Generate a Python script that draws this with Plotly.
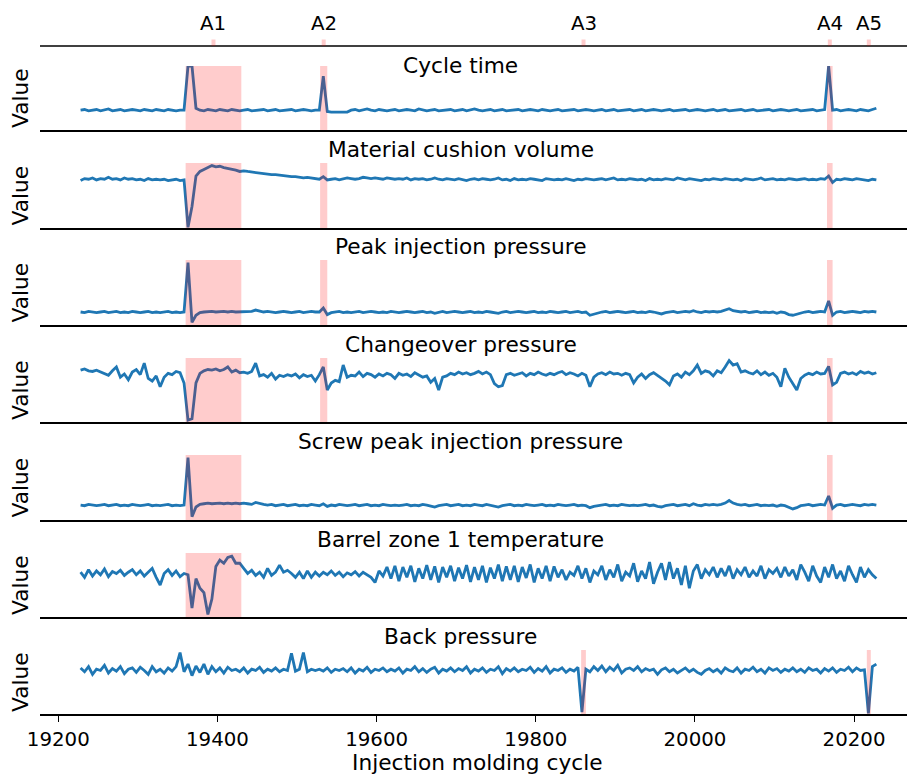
import plotly.graph_objects as go

# ---------------- data ----------------
cycles = list(range(19228, 20229, 5))  # injection molding cycle numbers (201 samples)

panel_titles = ["Cycle time", "Material cushion volume", "Peak injection pressure",
                "Changeover pressure", "Screw peak injection pressure",
                "Barrel zone 1 temperature", "Back pressure"]

cycle_time = [
    31,32,30,31,32,30,31,33,30,31,32,30,31,32,31,30,32,31,30,32,
    31,30,32,31,30,31,31,100,100,34,31,30,32,31,30,32,31,30,32,31,
    30,31,32,30,31,31,32,30,31,32,30,31,31,32,30,31,32,31,30,31,
    31,84,29,28,28,28,28,28,31,32,30,31,33,31,30,32,31,30,31,32,
    30,31,32,31,30,33,31,30,31,32,30,31,31,32,30,31,32,30,31,33,
    31,30,31,32,30,31,32,30,31,31,32,30,31,32,31,30,32,31,30,31,
    32,30,31,31,32,30,31,32,31,30,31,32,30,31,32,30,31,31,32,30,
    31,32,30,31,32,31,30,31,32,30,31,31,32,30,31,32,31,30,31,32,
    30,31,32,30,31,31,32,30,31,32,30,31,31,32,30,31,32,31,30,31,
    32,30,31,31,32,30,31,32,100,31,32,30,31,32,31,30,32,31,30,32,34]

cushion_volume = [
    73,76,75,77,74,76,75,78,75,76,74,77,75,76,74,75,73,76,74,75,
    74,75,73,74,75,73,74,1,33,80,87,90,93,96,94,95,93,92,90,89,
    87,88,87,86,86,85,84,83,82,82,81,80,80,79,79,78,77,78,77,76,
    75,79,74,75,76,74,75,77,76,75,76,78,77,76,77,76,75,77,76,75,
    76,75,77,74,76,75,76,74,75,77,75,74,76,75,74,76,75,73,75,76,
    74,76,75,74,75,77,74,75,73,76,74,75,74,76,75,74,73,76,75,74,
    75,74,76,75,73,75,74,76,75,74,75,76,74,75,77,74,75,74,76,75,
    74,75,73,76,74,75,74,76,75,74,77,75,74,76,75,74,73,75,74,76,
    75,74,76,75,74,75,73,76,75,74,75,77,74,75,76,74,75,74,76,75,
    74,75,76,74,75,74,76,75,80,70,75,74,76,75,74,76,75,74,73,75,74]

peak_injection = [
    20,19,21,20,19,20,21,19,20,21,19,20,19,21,20,19,20,21,19,20,
    19,20,21,19,20,19,20,96,4,15,19,20,21,21,20,21,21,20,21,20,
    20,21,20,21,23,22,20,21,20,19,20,21,20,19,20,21,19,20,21,20,
    20,26,16,19,20,21,19,20,19,20,21,19,20,21,20,19,20,19,21,20,
    19,20,21,20,19,20,21,19,20,18,20,21,19,20,21,20,19,20,21,19,
    20,19,21,20,19,18,20,21,19,20,21,20,19,20,21,19,20,19,21,20,
    19,20,21,19,20,21,19,20,15,17,19,20,21,19,20,21,20,19,20,21,
    19,20,19,21,20,18,17,19,20,21,19,20,21,20,22,20,19,21,20,21,
    20,21,23,25,22,21,20,21,19,20,21,19,20,19,20,18,20,19,16,15,
    17,19,20,21,19,20,21,20,37,15,20,21,19,20,21,20,19,21,20,21,20]

changeover = [
    81,83,80,79,81,78,76,73,80,86,70,75,66,78,82,74,92,68,64,72,
    55,70,76,74,79,77,61,3,5,61,76,80,82,81,83,80,82,86,78,81,
    77,78,76,79,92,72,74,70,76,67,73,71,74,72,75,69,74,71,73,64,
    74,86,50,61,65,63,89,70,73,72,78,71,76,74,70,75,72,76,74,68,
    76,73,75,71,77,74,70,72,62,68,50,70,72,76,74,78,75,77,74,76,
    79,75,78,74,60,55,57,74,76,73,75,77,72,76,74,78,75,73,76,74,
    77,79,74,77,75,72,76,73,55,70,75,77,74,78,75,76,73,76,74,61,
    70,75,68,74,77,73,69,64,58,72,75,70,78,74,80,89,76,80,78,72,
    80,77,86,96,89,91,78,80,77,75,80,74,78,73,76,70,55,84,70,60,
    50,68,73,76,74,78,75,76,87,58,62,76,78,75,77,74,79,76,78,75,77]

screw_peak = [
    23,22,24,23,22,23,24,22,23,24,22,23,22,24,23,22,23,24,22,23,
    22,23,24,22,23,22,23,96,5,20,24,25,26,25,26,26,25,26,25,26,
    25,26,25,24,27,25,24,23,24,22,23,24,22,23,24,22,23,22,24,23,
    22,25,21,23,22,24,23,22,23,24,22,23,24,22,23,22,24,23,22,23,
    22,23,24,22,23,22,24,23,22,20,22,23,24,22,23,24,22,23,22,24,
    23,22,24,23,22,20,22,23,24,22,23,22,24,23,22,23,24,22,23,22,
    24,23,22,23,24,22,23,22,19,21,22,23,24,22,23,22,24,23,22,23,
    22,23,24,22,23,21,20,22,23,24,22,23,24,22,25,23,22,24,23,24,
    23,24,26,30,26,24,23,24,22,23,24,22,23,22,23,21,23,22,19,17,
    19,22,23,24,22,23,24,23,37,18,23,24,22,23,24,23,22,24,23,24,23]

barrel_temp = [
    70,62,74,64,72,66,75,63,71,68,73,65,70,74,66,72,64,70,76,62,
    50,68,74,65,72,63,68,66,14,60,45,38,4,28,79,89,84,93,95,84,
    84,76,68,73,65,70,62,76,65,70,81,70,73,68,62,70,60,72,62,70,
    64,70,66,72,65,70,63,69,66,71,64,70,66,62,54,72,64,78,60,80,
    56,78,62,80,55,76,60,81,58,79,54,78,62,80,56,77,60,81,55,78,
    58,80,54,77,60,82,56,79,58,80,55,78,61,82,54,76,60,80,56,79,
    62,74,58,70,65,80,60,76,54,72,66,80,58,74,62,82,56,70,64,84,
    55,72,60,86,52,70,84,58,86,60,76,50,80,45,72,82,60,74,66,78,
    62,76,64,80,60,74,66,78,62,72,64,80,60,74,68,76,62,78,64,74,
    58,82,70,56,80,64,54,78,62,82,60,72,56,80,66,54,78,62,74,66,60]

back_pressure = [
    72,66,74,62,70,68,76,64,71,67,74,63,70,72,65,73,68,62,74,66,
    70,64,72,67,74,96,66,78,60,75,65,78,62,74,66,72,64,73,68,70,
    66,72,64,70,68,73,65,70,67,72,66,70,68,95,67,70,96,66,70,68,
    70,67,72,65,70,68,71,66,72,64,70,67,73,65,70,68,72,66,70,67,
    72,64,70,68,74,66,71,65,70,73,64,70,67,72,66,71,68,74,64,70,
    67,72,65,70,68,74,63,71,67,72,66,70,68,73,65,71,67,74,64,70,
    68,72,65,70,67,73,3,70,66,74,68,75,66,73,68,76,64,70,72,68,
    74,66,71,68,70,62,69,72,66,70,64,68,72,66,70,65,62,68,71,66,
    70,64,72,68,66,72,64,70,68,73,66,70,64,72,68,71,65,70,67,72,
    66,70,65,72,68,70,64,71,67,72,65,70,68,73,66,72,68,69,1,74,78]

anomaly_labels = ["A1", "A2", "A3", "A4", "A5"]
anomaly_start = [19360, 19529, 19857, 20166, 20216]
anomaly_end = [19430, 19538, 19863, 20173, 20221]
# which panels (0-based) each anomaly is highlighted in
anomaly_panels = [[0, 1, 2, 3, 4, 5], [0, 1, 2, 3], [6], [0, 1, 2, 3, 4], [6]]

x_tick_values = [19200, 19400, 19600, 19800, 20000, 20200]

series = [cycle_time, cushion_volume, peak_injection, changeover,
          screw_peak, barrel_temp, back_pressure]
for s in series:
    assert len(s) == len(cycles), len(s)

# ---------------- layout geometry ----------------
W, H = 908, 776
tops = [66, 163, 260, 358, 455, 553, 650]
bottoms = [130, 228, 325, 422, 520, 617, 714]
title_y = [65, 149, 246, 344, 441, 539, 636]
FONT = "DejaVu Sans"
FS_BIG = 21.7
FS_TICK = 19.8
BLUE = "#1f77b4"
SHADE = "rgba(255,0,0,0.2)"
XRANGE = [19177.0, 20266.5]

def px(x):
    return x / W

def py(y):
    return 1 - y / H

fig = go.Figure()
layout = dict(
    width=W, height=H,
    margin=dict(l=0, r=0, t=0, b=0, pad=0, autoexpand=False),
    paper_bgcolor="white", plot_bgcolor="white",
    font=dict(family=FONT, size=FS_TICK, color="black"),
    showlegend=False,
)

shapes = []
annotations = []
n_panels = len(series)
for k, vals in enumerate(series):
    n = k + 1
    xa = "x" if n == 1 else f"x{n}"
    ya = "y" if n == 1 else f"y{n}"
    fig.add_trace(go.Scatter(x=cycles, y=vals, mode="lines",
                             line=dict(color=BLUE, width=2.8),
                             xaxis=xa, yaxis=ya, hoverinfo="skip"))
    is_bottom = (k == n_panels - 1)
    xaxis = dict(domain=[px(40), px(907)], range=XRANGE, anchor=ya,
                 showline=True, linecolor="black", linewidth=1.5,
                 showgrid=False, zeroline=False, automargin=False,
                 showticklabels=is_bottom,
                 ticks="outside" if is_bottom else "",
                 tickvals=x_tick_values if is_bottom else None,
                 tickformat="d",
                 ticklen=6, tickwidth=1.3, tickcolor="black",
                 tickfont=dict(family=FONT, size=FS_TICK, color="black"))
    if n > 1:
        xaxis["matches"] = "x"
    yaxis = dict(domain=[py(bottoms[k]), py(tops[k])], range=[0, 100], anchor=xa,
                 showline=False, showgrid=False, zeroline=False, automargin=False,
                 showticklabels=False, ticks="")
    layout["xaxis" if n == 1 else f"xaxis{n}"] = xaxis
    layout["yaxis" if n == 1 else f"yaxis{n}"] = yaxis

    # panel title
    annotations.append(dict(text=panel_titles[k], xref="paper", yref="paper",
                            x=px(460.5), y=py(title_y[k]), xanchor="center",
                            yanchor="middle", showarrow=False,
                            font=dict(family=FONT, size=FS_BIG, color="black")))
    # y label
    annotations.append(dict(text="Value", xref="paper", yref="paper",
                            x=px(20), y=py((tops[k] + bottoms[k]) / 2),
                            xanchor="center", yanchor="middle", textangle=-90,
                            showarrow=False,
                            font=dict(family=FONT, size=FS_BIG, color="black")))

# anomaly shading (drawn above the lines, as in the reference)
for a, panels in enumerate(anomaly_panels):
    for k in panels:
        n = k + 1
        xa = "x" if n == 1 else f"x{n}"
        ya = "y" if n == 1 else f"y{n}"
        shapes.append(dict(type="rect", xref=xa, yref=f"{ya} domain",
                           x0=anomaly_start[a], x1=anomaly_end[a], y0=0, y1=1,
                           fillcolor=SHADE, line=dict(width=0), layer="above"))

# top anomaly axis: line, pink tick marks, labels
shapes.append(dict(type="line", xref="paper", yref="paper",
                   x0=px(40), x1=px(907), y0=py(46), y1=py(46),
                   line=dict(color="black", width=1.5)))
for a, lab in enumerate(anomaly_labels):
    centre = (anomaly_start[a] + anomaly_end[a]) / 2
    shapes.append(dict(type="line", xref="x", yref="paper",
                       x0=centre, x1=centre, y0=py(46), y1=py(39.5),
                       line=dict(color=SHADE, width=4)))
    annotations.append(dict(text=lab, xref="x", yref="paper", x=centre,
                            y=py(23), xanchor="center", yanchor="middle",
                            showarrow=False,
                            font=dict(family=FONT, size=FS_TICK, color="black")))

# x-axis title
annotations.append(dict(text="Injection molding cycle", xref="paper", yref="paper",
                        x=px(477), y=py(762), xanchor="center", yanchor="middle",
                        showarrow=False,
                        font=dict(family=FONT, size=FS_BIG, color="black")))

layout["shapes"] = shapes
layout["annotations"] = annotations
fig.update_layout(**layout)

fig.write_html("out.html")
